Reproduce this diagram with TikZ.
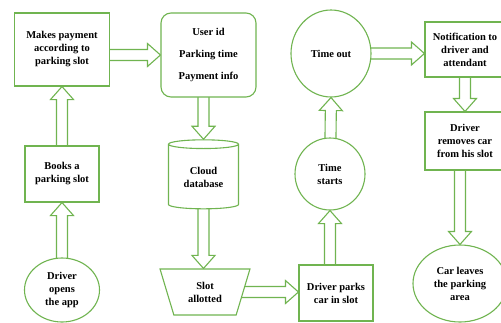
\documentclass[tikz,border=0pt]{standalone}
\usepackage{fontspec}
\setmainfont{Liberation Serif}
\usetikzlibrary{shapes.geometric,calc,backgrounds}
\definecolor{flowgreen}{RGB}{112,180,80}
\tikzset{
  base/.style={draw=flowgreen, line width=1.1pt, fill=white, align=center,
    font=\fontsize{10.5}{13}\selectfont\bfseries, inner sep=2pt},
  stepbox/.style={base, rectangle},
  roundbox/.style={base, rectangle, rounded corners=10pt},
  event/.style={base, ellipse},
  store/.style={base, cylinder, shape border rotate=90, aspect=0.2},
  slotbox/.style={base, trapezium, shape border rotate=180, trapezium angle=71,
    trapezium stretches=true},
  flow/.style={draw=flowgreen, line width=1.1pt, fill=white, line join=miter}
}
% hollow block arrow from #1 to #2
\newcommand\blockarrow[2]{%
  \coordinate (ba-s) at (#1);
  \coordinate (ba-t) at (#2);
  \coordinate (ba-n) at ($(ba-t)!13pt!(ba-s)$);
  \filldraw[flow] ($(ba-s)!5.5pt!90:(ba-t)$) -- ($(ba-n)!5.5pt!90:(ba-t)$)
    -- ($(ba-n)!11.5pt!90:(ba-t)$) -- (ba-t) -- ($(ba-n)!11.5pt!-90:(ba-t)$)
    -- ($(ba-n)!5.5pt!-90:(ba-t)$) -- ($(ba-s)!5.5pt!-90:(ba-t)$);
}
\begin{document}
\begin{tikzpicture}[x=1pt,y=-1pt]
  \useasboundingbox (0,0) rectangle (501,322);
  % left column
  \node[stepbox, minimum width=95pt, minimum height=73pt] (pay) at (62,49.5) {Makes payment\\according to\\parking slot};
  \node[stepbox, minimum width=74pt, minimum height=56pt] (books) at (62,174) {Books a\\parking slot};
  \node[event, minimum width=75pt, minimum height=64pt] (opens) at (62,290) {Driver\\opens\\the app};
  % middle column
  \node[roundbox, minimum width=95pt, minimum height=84pt] (user) at (208.5,55) {User id\\[9pt]Parking time\\[9pt]Payment info};
  \node[store, minimum width=70pt, minimum height=69pt] (cloud) at (203.5,177.5) {Cloud\\database};
  \node[slotbox, minimum width=90pt, minimum height=46pt] (slot) at (205,292) {Slot\\allotted};
  % right columns
  \node[stepbox, minimum width=74pt, minimum height=56pt] (parks) at (336,293) {Driver parks\\car in slot};
  \node[event, minimum width=70pt, minimum height=72pt] (tstart) at (330,174) {Time\\starts};
  \node[event, minimum width=80pt, minimum height=87pt] (tout) at (331,53.5) {Time out};
  \node[stepbox, minimum width=80pt, minimum height=55pt] (notif) at (465,49.5) {Notification to\\driver and\\attendant};
  \node[stepbox, minimum width=80pt, minimum height=58pt] (removes) at (465,141) {Driver\\removes car\\from his slot};
  \node[event, minimum width=94pt, minimum height=77pt] (leaves) at (460,283.5) {Car leaves\\the parking\\area};
  \begin{scope}[on background layer]
    \fill[white] (0,0) rectangle (501,322);
    \blockarrow{opens.center}{books.south}
    \blockarrow{books.center}{pay.south}
    \blockarrow{pay.center |- user.west}{user.west}
    \blockarrow{cloud.center |- user.center}{cloud.north}
    \blockarrow{cloud.center}{cloud.center |- slot.north}
    \blockarrow{slot.center}{parks.west |- slot.center}
    \blockarrow{tstart.center |- parks.center}{tstart.south}
    \blockarrow{tstart.center}{tout.south}
    \blockarrow{tout.center}{notif.west |- tout.center}
    \blockarrow{notif.center}{removes.north}
    \blockarrow{leaves.center |- removes.center}{leaves.north}
  \end{scope}
\end{tikzpicture}
\end{document}
